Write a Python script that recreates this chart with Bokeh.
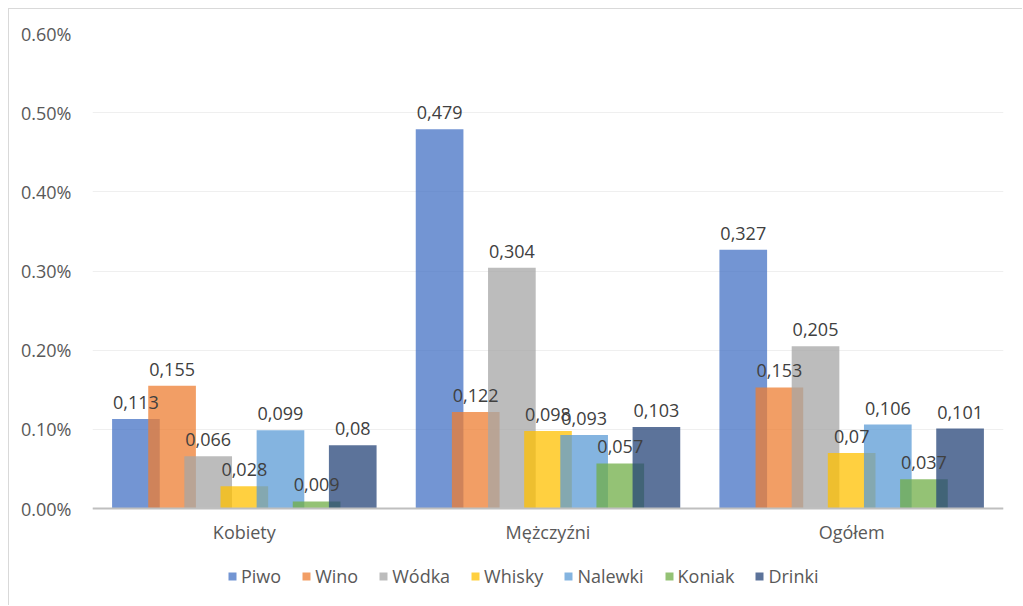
from bokeh.plotting import figure
from bokeh.models import (ColumnDataSource, FactorRange, Range1d, FixedTicker,
                          PrintfTickFormatter, Legend, LegendItem)
from bokeh.transform import dodge
from bokeh.core.properties import value
from bokeh.embed import file_html
from bokeh.resources import INLINE

groups = ["Kobiety", "Mężczyźni", "Ogółem"]
series = ["Piwo", "Wino", "Wódka", "Whisky", "Nalewki", "Koniak", "Drinki"]
colors = ["#4472C4", "#ED7D31", "#A5A5A5", "#FFC000", "#5B9BD5", "#70AD47", "#264478"]

piwo = [0.113, 0.479, 0.327]
wino = [0.155, 0.122, 0.153]
wodka = [0.066, 0.304, 0.205]
whisky = [0.028, 0.098, 0.070]
nalewki = [0.099, 0.093, 0.106]
koniak = [0.009, 0.057, 0.037]
drinki = [0.080, 0.103, 0.101]
values = [piwo, wino, wodka, whisky, nalewki, koniak, drinki]

y_ticks = [0.0, 0.1, 0.2, 0.3, 0.4, 0.5, 0.6]

FONT = "Open Sans"
GREY_TEXT = "#595959"

# the frame reaches down to the legend; the category axis sits at y = 0
p = figure(x_range=FactorRange(*groups, range_padding=0),
           y_range=Range1d(-0.1162, 0.6),
           width=1014, height=597,
           output_backend="svg", toolbar_location=None,
           min_border_left=83, min_border_right=20,
           min_border_top=24, min_border_bottom=6)
p.styles = {"margin-left": "8px", "margin-top": "8px",
            "border-top": "1px solid #d9d9d9", "border-left": "1px solid #d9d9d9"}
p.outline_line_color = None
p.background_fill_color = "white"
p.border_fill_color = "white"

# axes
p.yaxis.ticker = FixedTicker(ticks=y_ticks)
p.yaxis.formatter = PrintfTickFormatter(format="%.2f%%")
p.yaxis.axis_line_color = None
p.yaxis.major_tick_line_color = None
p.yaxis.minor_tick_line_color = None
p.yaxis.major_label_standoff = 15
p.yaxis.major_label_text_font = FONT
p.yaxis.major_label_text_font_size = "18px"
p.yaxis.major_label_text_color = GREY_TEXT

p.xaxis.fixed_location = 0
p.xaxis.axis_line_color = "#BFBFBF"
p.xaxis.axis_line_width = 2
p.xaxis.major_tick_line_color = None
p.xaxis.minor_tick_line_color = None
p.xaxis.major_label_standoff = 5
p.xaxis.major_label_text_font = FONT
p.xaxis.major_label_text_font_size = "18px"
p.xaxis.major_label_text_color = GREY_TEXT

p.xgrid.grid_line_color = None
p.ygrid.grid_line_color = "#EFEFEF"
p.ygrid.grid_line_width = 1

step = 0.119
bar_w = 0.157
items = []
for i, (name, col, vals) in enumerate(zip(series, colors, values)):
    src = ColumnDataSource(dict(cat=groups, val=vals))
    off = (i - 3) * step
    r = p.vbar(x=dodge("cat", off, range=p.x_range), top="val", width=bar_w,
               source=src, fill_color=col, fill_alpha=0.75, line_color=None)
    items.append(LegendItem(label=name, renderers=[r]))

# value labels drawn after all bars
for i, vals in enumerate(values):
    labels = [f"{v:g}".replace(".", ",") for v in vals]
    src = ColumnDataSource(dict(cat=groups, val=vals, lab=labels))
    off = (i - 3) * step
    p.text(x=dodge("cat", off, range=p.x_range), y="val", text="lab", source=src,
           text_align="center", text_baseline="bottom", y_offset=-10,
           text_font=value(FONT), text_font_size="18px", text_color="#404040")

legend = Legend(items=items, orientation="horizontal", location=(135, 12),
                label_text_font=FONT, label_text_font_size="18px",
                label_text_color=GREY_TEXT, glyph_width=10, glyph_height=10,
                label_standoff=4, spacing=20, padding=0, margin=0,
                border_line_color=None, background_fill_alpha=0)
p.add_layout(legend, "center")

open("out.html", "w").write(file_html(p, INLINE))
